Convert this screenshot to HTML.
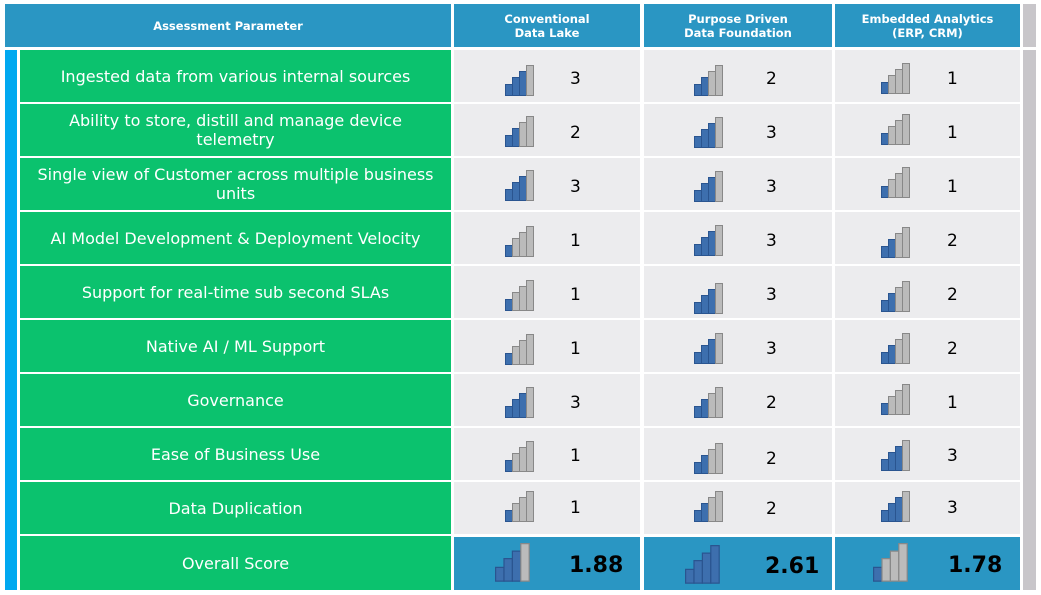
<!DOCTYPE html>
<html><head><meta charset="utf-8"><style>
body{margin:0;width:1041px;height:595px;background:#fff;position:relative;overflow:hidden;font-family:"DejaVu Sans","Liberation Sans",sans-serif}
.a{position:absolute}
.h{background:#2a96c3;color:#fff;font-weight:bold;font-size:11.5px;text-align:center;display:flex;align-items:center;justify-content:center;line-height:14px}
.g{background:#0bc26e;color:#fff;font-size:16px;text-align:center;display:flex;align-items:center;justify-content:center;line-height:19px;padding:0 10px;box-sizing:border-box}
.s{background:#00a8f0}
.r{background:#c8c6ca}
.c{background:#ececee}
.o{background:#2a96c3}
.n{font-size:17px;color:#000}
.N{font-size:22px;font-weight:bold;color:#000}
</style></head><body>
<svg width="0" height="0" style="position:absolute"><defs>
<g id="b1"><rect x="0.5" y="19.5" width="7" height="11" fill="#3d6fae" stroke="#2a5590"/><rect x="7.5" y="12.5" width="7" height="18" fill="#bbb" stroke="#888"/><rect x="14.5" y="6.5" width="7" height="24" fill="#bbb" stroke="#888"/><rect x="21.5" y="0.5" width="7" height="30" fill="#bbb" stroke="#888"/></g>
<g id="b2"><rect x="0.5" y="19.5" width="7" height="11" fill="#3d6fae" stroke="#2a5590"/><rect x="7.5" y="12.5" width="7" height="18" fill="#3d6fae" stroke="#2a5590"/><rect x="14.5" y="6.5" width="7" height="24" fill="#bbb" stroke="#888"/><rect x="21.5" y="0.5" width="7" height="30" fill="#bbb" stroke="#888"/></g>
<g id="b3"><rect x="0.5" y="19.5" width="7" height="11" fill="#3d6fae" stroke="#2a5590"/><rect x="7.5" y="12.5" width="7" height="18" fill="#3d6fae" stroke="#2a5590"/><rect x="14.5" y="6.5" width="7" height="24" fill="#3d6fae" stroke="#2a5590"/><rect x="21.5" y="0.5" width="7" height="30" fill="#bbb" stroke="#888"/></g>
<g id="b4"><rect x="0.5" y="19.5" width="7" height="11" fill="#3d6fae" stroke="#2a5590"/><rect x="7.5" y="12.5" width="7" height="18" fill="#3d6fae" stroke="#2a5590"/><rect x="14.5" y="6.5" width="7" height="24" fill="#3d6fae" stroke="#2a5590"/><rect x="21.5" y="0.5" width="7" height="30" fill="#3d6fae" stroke="#2a5590"/></g>
</defs></svg>

<div class="a h" style="left:5px;top:4px;width:446px;height:43px">Assessment Parameter</div>
<div class="a h" style="left:454px;top:4px;width:186px;height:43px">Conventional<br>Data Lake</div>
<div class="a h" style="left:644px;top:4px;width:188px;height:43px">Purpose Driven<br>Data Foundation</div>
<div class="a h" style="left:835px;top:4px;width:185px;height:43px">Embedded Analytics<br>(ERP, CRM)</div>
<div class="a r" style="left:1023px;top:4px;width:13px;height:43px"></div>

<!-- rows -->
<div class="a s" style="left:5px;top:50px;width:12px;height:540px"></div>
<div class="a r" style="left:1023px;top:50px;width:13px;height:540px"></div>

<div class="a g" style="left:20px;top:50px;width:431px;height:52px">Ingested data from various internal sources</div>
<div class="a g" style="left:20px;top:104px;width:431px;height:52px">Ability to store, distill and manage device telemetry</div>
<div class="a g" style="left:20px;top:158px;width:431px;height:52px">Single view of Customer across multiple business units</div>
<div class="a g" style="left:20px;top:212px;width:431px;height:52px">AI Model Development &amp; Deployment Velocity</div>
<div class="a g" style="left:20px;top:266px;width:431px;height:52px">Support for real-time sub second SLAs</div>
<div class="a g" style="left:20px;top:320px;width:431px;height:52px">Native AI / ML Support</div>
<div class="a g" style="left:20px;top:374px;width:431px;height:52px">Governance</div>
<div class="a g" style="left:20px;top:428px;width:431px;height:52px">Ease of Business Use</div>
<div class="a g" style="left:20px;top:482px;width:431px;height:52px">Data Duplication</div>
<div class="a g" style="left:20px;top:536px;width:431px;height:54px">Overall Score</div>

<div class="a c" style="left:454px;top:50px;width:186px;height:484px"></div>
<div class="a c" style="left:644px;top:50px;width:188px;height:484px"></div>
<div class="a c" style="left:835px;top:50px;width:185px;height:484px"></div>
<!-- row separators -->
<div class="a" style="left:454px;top:102px;width:566px;height:2px;background:#fff"></div>
<div class="a" style="left:454px;top:156px;width:566px;height:2px;background:#fff"></div>
<div class="a" style="left:454px;top:210px;width:566px;height:2px;background:#fff"></div>
<div class="a" style="left:454px;top:264px;width:566px;height:2px;background:#fff"></div>
<div class="a" style="left:454px;top:318px;width:566px;height:2px;background:#fff"></div>
<div class="a" style="left:454px;top:372px;width:566px;height:2px;background:#fff"></div>
<div class="a" style="left:454px;top:426px;width:566px;height:2px;background:#fff"></div>
<div class="a" style="left:454px;top:480px;width:566px;height:2px;background:#fff"></div>

<div class="a o" style="left:454px;top:537px;width:186px;height:53px"></div>
<div class="a o" style="left:644px;top:537px;width:188px;height:53px"></div>
<div class="a o" style="left:835px;top:537px;width:185px;height:53px"></div>

<!-- icons and numbers: col1 x505/572, col2 x694/767, col3 x881/948 -->
<svg class="a" style="left:0;top:0" width="1041" height="595">
<g font-family="DejaVu Sans, Liberation Sans, sans-serif" font-size="17" fill="#000">
<use href="#b3" x="505" y="65"/><text x="570" y="84">3</text>
<use href="#b2" x="694" y="65"/><text x="766" y="84">2</text>
<use href="#b1" x="881" y="63"/><text x="947" y="84">1</text>

<use href="#b2" x="505" y="116"/><text x="570" y="138">2</text>
<use href="#b3" x="694" y="117"/><text x="766" y="138">3</text>
<use href="#b1" x="881" y="114"/><text x="947" y="138">1</text>

<use href="#b3" x="505" y="170"/><text x="570" y="192">3</text>
<use href="#b3" x="694" y="171"/><text x="766" y="192">3</text>
<use href="#b1" x="881" y="167"/><text x="947" y="192">1</text>

<use href="#b1" x="505" y="226"/><text x="570" y="246">1</text>
<use href="#b3" x="694" y="225"/><text x="766" y="246">3</text>
<use href="#b2" x="881" y="227"/><text x="947" y="246">2</text>

<use href="#b1" x="505" y="280"/><text x="570" y="300">1</text>
<use href="#b3" x="694" y="283"/><text x="766" y="300">3</text>
<use href="#b2" x="881" y="281"/><text x="947" y="300">2</text>

<use href="#b1" x="505" y="334"/><text x="570" y="354">1</text>
<use href="#b3" x="694" y="333"/><text x="766" y="354">3</text>
<use href="#b2" x="881" y="333"/><text x="947" y="354">2</text>

<use href="#b3" x="505" y="387"/><text x="570" y="408">3</text>
<use href="#b2" x="694" y="387"/><text x="766" y="408">2</text>
<use href="#b1" x="881" y="384"/><text x="947" y="408">1</text>

<use href="#b1" x="505" y="441"/><text x="570" y="461">1</text>
<use href="#b2" x="694" y="443"/><text x="766" y="464">2</text>
<use href="#b3" x="881" y="440"/><text x="947" y="461">3</text>

<use href="#b1" x="505" y="491"/><text x="570" y="513">1</text>
<use href="#b2" x="694" y="491"/><text x="766" y="514">2</text>
<use href="#b3" x="881" y="491"/><text x="947" y="513">3</text>
</g>
<g font-family="DejaVu Sans, Liberation Sans, sans-serif" font-size="22" font-weight="bold" fill="#000">
<use href="#b3" transform="translate(495,543) scale(1.2,1.25)"/><text x="569" y="572">1.88</text>
<use href="#b4" transform="translate(685,545) scale(1.2,1.25)"/><text x="765" y="573">2.61</text>
<use href="#b1" transform="translate(873,543) scale(1.2,1.25)"/><text x="948" y="572">1.78</text>
</g>
</svg>
</body></html>
